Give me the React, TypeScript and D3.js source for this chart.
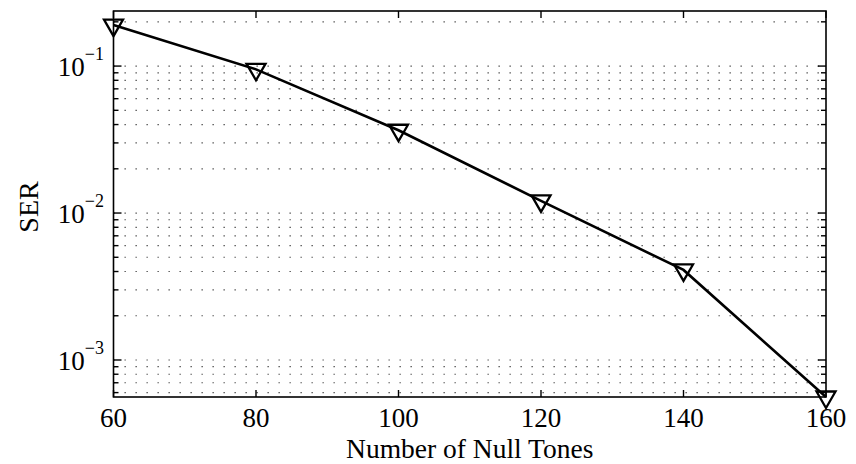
import React from "react";
import * as d3 from "d3";

// Symbol error rate versus the number of null tones
const nullTones: number[] = [60, 80, 100, 120, 140, 160];
const serValues: number[] = [0.19, 0.095, 0.0366, 0.0121, 0.0041, 0.00056];
const xTickValues: number[] = [60, 80, 100, 120, 140, 160];
const yMajorExponents: number[] = [-1, -2, -3];
const xDomain: [number, number] = [60, 160];
const yDomain: [number, number] = [0.00056, 0.237];

const W = 856;
const H = 464;
const M = { left: 113.5, right: 826, top: 11, bottom: 397 };
const FONT = "'Liberation Serif', 'Times New Roman', serif";

export default function App() {
  const x = d3.scaleLinear().domain(xDomain).range([M.left, M.right]);
  const y = d3.scaleLog().domain(yDomain).range([M.bottom, M.top]);

  // every 1..9 × 10^k that falls inside the y domain
  const gridValues: number[] = [];
  for (let e = -4; e <= 0; e++) {
    for (let k = 1; k <= 9; k++) {
      const v = k * Math.pow(10, e);
      if (v >= yDomain[0] * 0.999 && v <= yDomain[1]) gridValues.push(v);
    }
  }
  const isMajor = (v: number) => Math.abs(Math.log10(v) - Math.round(Math.log10(v))) < 1e-9;

  const line = d3
    .line<number>()
    .x((_, i) => x(nullTones[i]))
    .y((d) => y(d));

  // downward triangle with its centroid on the data point
  const side = 19;
  const h = (side * Math.sqrt(3)) / 2;
  const tri = (cx: number, cy: number) =>
    `M${cx - side / 2},${cy - h / 3}L${cx + side / 2},${cy - h / 3}L${cx},${cy + (2 * h) / 3}Z`;

  return (
    <svg
      width={W}
      height={H}
      style={{ position: "absolute", left: 0, top: 0, background: "#fff" }}
      fontFamily={FONT}
    >
      <rect x={0} y={0} width={W} height={H} fill="#fff" />
      {/* dotted y grid */}
      <g>
        {gridValues.map((v, i) => (
          <line
            key={i}
            x1={M.left}
            x2={M.right}
            y1={y(v)}
            y2={y(v)}
            stroke="#444"
            strokeWidth={1.2}
            strokeDasharray="1.3 9.7"
          />
        ))}
      </g>

      {/* data series */}
      <path d={line(serValues) ?? ""} fill="none" stroke="#000" strokeWidth={2.6} />
      {serValues.map((v, i) => (
        <path
          key={i}
          d={tri(x(nullTones[i]), y(v))}
          fill="none"
          stroke="#000"
          strokeWidth={2.3}
          strokeLinejoin="miter"
        />
      ))}

      {/* axes box */}
      <rect
        x={M.left}
        y={M.top}
        width={M.right - M.left}
        height={M.bottom - M.top}
        fill="none"
        stroke="#000"
        strokeWidth={1.6}
      />

      {/* x ticks */}
      {xTickValues.map((t) => (
        <g key={t}>
          <line x1={x(t)} x2={x(t)} y1={M.bottom} y2={M.bottom - 7} stroke="#000" strokeWidth={1.4} />
          <line x1={x(t)} x2={x(t)} y1={M.top} y2={M.top + 7} stroke="#000" strokeWidth={1.4} />
          <text x={x(t)} y={427} fontSize={27} textAnchor="middle" fill="#000">
            {t}
          </text>
        </g>
      ))}

      {/* y ticks */}
      {gridValues.map((v, i) => {
        const len = isMajor(v) ? 8 : 5;
        return (
          <g key={i}>
            <line x1={M.left} x2={M.left + len} y1={y(v)} y2={y(v)} stroke="#000" strokeWidth={1.4} />
            <line x1={M.right} x2={M.right - len} y1={y(v)} y2={y(v)} stroke="#000" strokeWidth={1.4} />
          </g>
        );
      })}
      {yMajorExponents.map((e) => (
        <text key={e} x={104} y={y(Math.pow(10, e)) + 10} fontSize={27} textAnchor="end" fill="#000">
          10
          <tspan dy={-16} fontSize={18}>
            {"\u2212" + Math.abs(e)}
          </tspan>
        </text>
      ))}

      {/* axis titles */}
      <text x={(M.left + M.right) / 2} y={458} fontSize={27.5} textAnchor="middle" fill="#000">
        Number of Null Tones
      </text>
      <text
        transform={`translate(38,${(M.top + M.bottom) / 2 + 3}) rotate(-90)`}
        fontSize={28}
        textAnchor="middle"
        fill="#000"
      >
        SER
      </text>
    </svg>
  );
}
